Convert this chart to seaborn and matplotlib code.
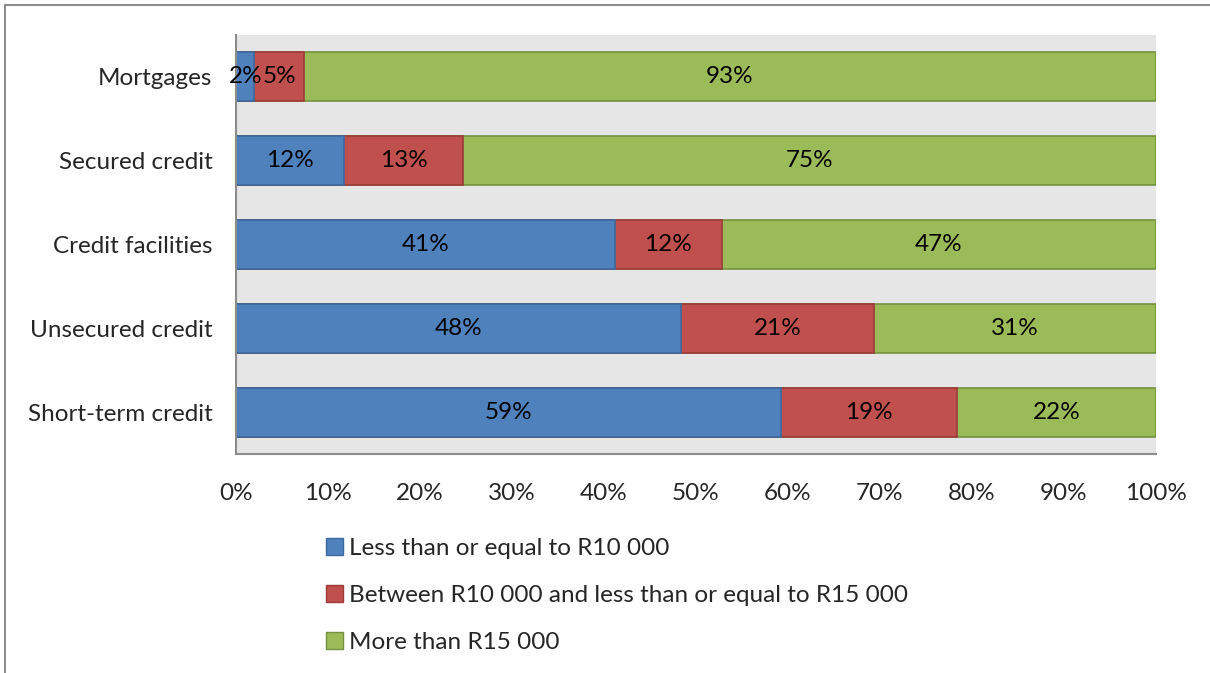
import numpy as np
import pandas as pd
import matplotlib
matplotlib.use("Agg")
import matplotlib.pyplot as plt
from matplotlib.patches import Patch
from matplotlib.lines import Line2D
import seaborn as sns

# 데이터
categories = ["Mortgages", "Secured credit", "Credit facilities", "Unsecured credit", "Short-term credit"]
series_names = ["Less than or equal to R10 000",
                "Between R10 000 and less than or equal to R15 000",
                "More than R15 000"]
low = [2.0, 11.7, 41.2, 48.4, 59.2]
mid = [5.4, 13.0, 11.6, 21.0, 19.2]
high = [92.6, 75.3, 47.2, 30.6, 21.6]
xticks = [0, 10, 20, 30, 40, 50, 60, 70, 80, 90, 100]

colors = ["#4f81bd", "#c0504d", "#9bbb59"]
edges = ["#3b6a9e", "#9c3b38", "#75913f"]

df = pd.DataFrame({"cat": categories, "low": low, "mid": mid, "high": high})
df["c1"] = df["low"]
df["c2"] = df["low"] + df["mid"]
df["c3"] = df["c2"] + df["high"]

sns.set_style("white")
plt.rcParams['font.family'] = ['Lato', 'DejaVu Sans']
fs = 17.5

fig = plt.figure(figsize=(12.1, 6.73), dpi=100)
ax = fig.add_axes([236/1210, 1-454/673, 920/1210, 419/673])
ax.set_facecolor("#e6e6e6")

# 누적 막대 (뒤에서부터)
for col, c, e in zip(["c3", "c2", "c1"], colors[::-1], edges[::-1]):
    sns.barplot(data=df, x=col, y="cat", color=c, edgecolor=e, linewidth=1.2,
                width=0.585, orient="h", saturation=1, ax=ax)

# 라벨
starts = [np.zeros(len(df)), df["c1"].values, df["c2"].values]
for vals, st in zip([low, mid, high], starts):
    for i, (v, s) in enumerate(zip(vals, st)):
        ax.text(s + v/2, i, f"{v:.0f}%", ha="center", va="center", fontsize=fs, color="black")

ax.set_xlim(0, 100)
ax.set_ylim(4.5, -0.5)
ax.set_xticks(xticks)
ax.set_xticklabels([f"{t}%" for t in xticks], fontsize=fs)
ax.tick_params(axis="y", labelsize=fs, length=0, pad=17)
ax.tick_params(axis="x", length=0, pad=21)
ax.set_xlabel("")
ax.set_ylabel("")
for s in ["top", "right"]:
    ax.spines[s].set_visible(False)
for s in ["left", "bottom"]:
    ax.spines[s].set_color("#8c8c8c")
    ax.spines[s].set_linewidth(1.5)

# 범례
handles = [Patch(facecolor=c, edgecolor=e, label=n) for c, e, n in zip(colors, edges, series_names)]
fig.legend(handles=handles, loc="upper left", bbox_to_anchor=(304/1210, 1-516/673),
           frameon=False, fontsize=fs, labelspacing=1.07, handlelength=0.7,
           handleheight=0.7, handletextpad=0.25)

# 바깥 테두리
fig.add_artist(Line2D([5/1210, 5/1210], [0, 1-5/673], color="#8c8c8c", lw=1.5))
fig.add_artist(Line2D([5/1210, 1], [1-5/673, 1-5/673], color="#8c8c8c", lw=1.5))

fig.savefig("out.png", dpi=100)
